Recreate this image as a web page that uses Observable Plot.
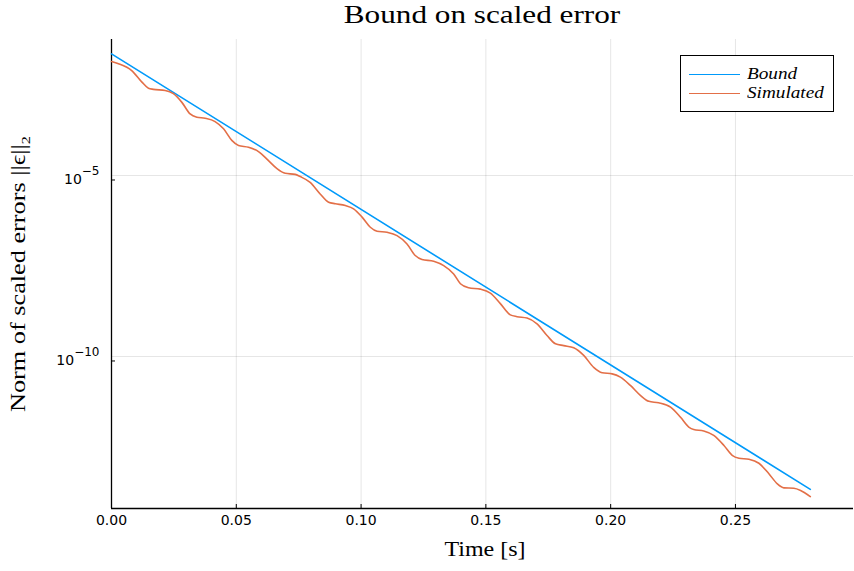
<!DOCTYPE html>
<html><head><meta charset="utf-8">
<script src="https://cdn.jsdelivr.net/npm/d3@7"></script>
<script src="https://cdn.jsdelivr.net/npm/@observablehq/plot@0.6"></script>
<style>
body{margin:0;background:#fff;}
#chart{position:relative;width:854px;height:571px;overflow:hidden;}
#chart svg{position:absolute;left:0;top:0;}
.serif{font-family:"Liberation Serif",serif;color:#000;position:absolute;white-space:nowrap;}
#title{left:482px;top:1px;font-size:26px;line-height:28px;transform:translateX(-50%) scaleX(1.2);transform-origin:50% 0;}
#xlabel{left:485px;top:537px;font-size:20px;line-height:24px;transform:translateX(-50%) scaleX(1.2);transform-origin:50% 0;}
#ylabel{left:22px;top:274px;font-size:21px;line-height:24px;transform:translate(-50%,-50%) rotate(-90deg) scaleX(1.25);}
#legend{position:absolute;left:680px;top:55px;width:154px;height:57px;border:1px solid #000;background:#fff;box-sizing:border-box;}
.lg-line{position:absolute;left:8px;width:51px;height:0;border-top:1.6px solid;}
.lg-text{position:absolute;left:66px;font-family:"Liberation Serif",serif;font-style:italic;font-size:16px;line-height:16px;transform:scaleX(1.2);transform-origin:0 0;}
</style></head>
<body>
<div id="chart">
</div>
<script>
// ---- data ----
const xTicks = [0, 0.05, 0.10, 0.15, 0.20, 0.25];
const yTicks = [1e-5, 1e-10];
const yTickBase = "10";
const yTickExponents = ["\u22125", "\u221210"];
const seriesNames = ["Bound", "Simulated"];
const seriesColors = ["#009AFA", "#E36F47"];

const boundT = [0, 0.28];
const boundLog10 = [-1.64, -13.67];

const simT = [0, 0.0028, 0.0081, 0.0122, 0.0148, 0.0168, 0.0215, 0.0248, 0.0282, 0.0315,
  0.0342, 0.0375, 0.0415, 0.0449, 0.0482, 0.0509, 0.0549, 0.0589, 0.0629, 0.0663,
  0.0696, 0.0736, 0.0756, 0.0796, 0.0836, 0.0870, 0.0897, 0.0937, 0.0970, 0.1004,
  0.1037, 0.1064, 0.1104, 0.1144, 0.1184, 0.1217, 0.1244, 0.1291, 0.1331, 0.1371,
  0.1398, 0.1431, 0.1478, 0.1518, 0.1558, 0.1598, 0.1625, 0.1665, 0.1705, 0.1745,
  0.1779, 0.1812, 0.1852, 0.1892, 0.1932, 0.1966, 0.2006, 0.2039, 0.2079, 0.2120,
  0.2153, 0.2192, 0.2240, 0.2280, 0.2313, 0.2333, 0.2373, 0.2413, 0.2454, 0.2487,
  0.2514, 0.2554, 0.2594, 0.2634, 0.2668, 0.2694, 0.2734, 0.2761, 0.2800];
const simLog10 = [-1.85, -1.91, -2.10, -2.42, -2.59, -2.62, -2.65, -2.74, -2.98, -3.30,
  -3.39, -3.42, -3.51, -3.71, -4.03, -4.17, -4.22, -4.34, -4.59, -4.81,
  -4.94, -4.97, -5.03, -5.19, -5.51, -5.74, -5.78, -5.83, -5.92, -6.15,
  -6.43, -6.54, -6.57, -6.66, -6.89, -7.21, -7.32, -7.37, -7.49, -7.72,
  -7.99, -8.10, -8.14, -8.25, -8.54, -8.85, -8.90, -8.94, -9.10, -9.42,
  -9.65, -9.70, -9.76, -9.97, -10.30, -10.45, -10.48, -10.57, -10.80, -11.08,
  -11.24, -11.28, -11.40, -11.68, -11.95, -12.02, -12.06, -12.18, -12.46, -12.73,
  -12.81, -12.84, -12.95, -13.24, -13.52, -13.63, -13.64, -13.70, -13.87];

const xDomain = [0, 0.2973];
const yDomainLog10 = [-14.2, -1.243];

// ---- tables ----
const bound = boundT.map((t, i) => ({t, v: Math.pow(10, boundLog10[i])}));
const sim = simT.map((t, i) => ({t, v: Math.pow(10, simLog10[i])}));
const yDomain = yDomainLog10.map(e => Math.pow(10, e));

const plot = Plot.plot({
  width: 854, height: 571,
  marginLeft: 111, marginRight: 1, marginTop: 39, marginBottom: 63,
  x: {domain: xDomain},
  y: {type: "log", domain: yDomain},
  style: {fontFamily: "DejaVu Sans", fontSize: "14px", color: "#000", background: "transparent"},
  marks: [
    Plot.gridX(xTicks, {stroke: "#000", strokeOpacity: 0.1, strokeWidth: 1}),
    Plot.gridY(yTicks, {stroke: "#000", strokeOpacity: 0.1, strokeWidth: 1}),
    Plot.axisX(xTicks, {tickSize: -4, tickPadding: 11, tickFormat: d3.format(".2f"), label: null}),
    Plot.axisY(yTicks, {tickSize: -4, tickPadding: 16, dy: 4.5, tickFormat: d => yTickBase + "|" + yTickExponents[yTicks.indexOf(d)], label: null}),
    Plot.ruleX([xDomain[0]], {stroke: "#000", strokeWidth: 1.3}),
    Plot.ruleY([yDomain[0]], {stroke: "#000", strokeWidth: 1.3}),
    Plot.line(bound, {x: "t", y: "v", stroke: seriesColors[0], strokeWidth: 1.6}),
    Plot.line(sim, {x: "t", y: "v", stroke: seriesColors[1], strokeWidth: 1.6, curve: "monotone-x"})
  ]
});

// render y tick labels as base with a raised exponent (still text)
d3.select(plot).selectAll('g[aria-label="y-axis tick label"] text').each(function() {
  const parts = this.textContent.split("|");
  const t = d3.select(this);
  t.text(parts[0]);
  t.append("tspan").attr("dy", "-9").attr("font-size", "12px").text(parts[1]);
});

const chart = document.getElementById("chart");
chart.appendChild(plot);

function addDiv(id, cls, html) {
  const d = document.createElement("div");
  if (id) d.id = id;
  d.className = cls;
  d.innerHTML = html;
  chart.appendChild(d);
  return d;
}
addDiv("title", "serif", "Bound on scaled error");
addDiv("xlabel", "serif", "Time [s]");
addDiv("ylabel", "serif", "Norm of scaled errors ||\u03F5||<sub style=\"font-size:13px\">2</sub>");

const legend = addDiv("legend", "", "");
seriesNames.forEach((name, i) => {
  const ln = document.createElement("div");
  ln.className = "lg-line";
  ln.style.top = (18 + i * 19) + "px";
  ln.style.borderColor = seriesColors[i];
  legend.appendChild(ln);
  const tx = document.createElement("div");
  tx.className = "lg-text";
  tx.style.top = (10 + i * 19) + "px";
  tx.textContent = name;
  legend.appendChild(tx);
});
</script>
</body></html>
